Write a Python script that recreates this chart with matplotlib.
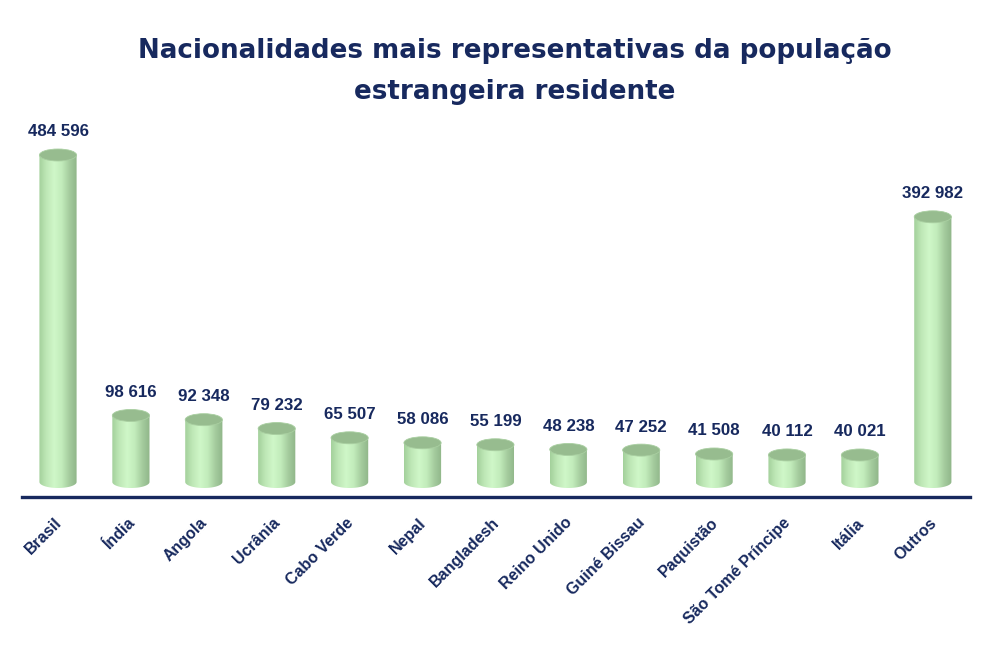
import numpy as np
import matplotlib.pyplot as plt
from matplotlib.path import Path
from matplotlib.patches import Ellipse, PathPatch
from matplotlib.colors import LinearSegmentedColormap
from matplotlib.transforms import ScaledTranslation

# data
paises = ["Brasil", "Índia", "Angola", "Ucrânia", "Cabo Verde", "Nepal",
          "Bangladesh", "Reino Unido", "Guiné Bissau", "Paquistão",
          "São Tomé Príncipe", "Itália", "Outros"]
residentes = [484596, 98616, 92348, 79232, 65507, 58086,
              55199, 48238, 47252, 41508, 40112, 40021, 392982]
rotulos = ["484 596", "98 616", "92 348", "79 232", "65 507", "58 086",
           "55 199", "48 238", "47 252", "41 508", "40 112", "40 021", "392 982"]

navy = "#17295e"
plt.rcParams["font.family"] = ["Liberation Sans", "DejaVu Sans"]

fig = plt.figure(figsize=(9.82, 6.66), dpi=100)
W, H = 982, 666
# axes box in pixels: left 22, right 970, top 100, bottom 497
ax = fig.add_axes([22 / W, (H - 497) / H, 948 / W, 397 / H])

x = np.arange(len(paises))
ymin, ymax = -22229, 566100
ax.set_xlim(-0.494, 12.51)
ax.set_ylim(ymin, ymax)

px_per_unit = 397 / (ymax - ymin)
ry = 6 / px_per_unit      # ellipse half-height in data units
half_w = 0.255

grad = LinearSegmentedColormap.from_list(
    "cyl", ["#a3d09b", "#bfe8b7", "#cff7c8", "#c2ecbb", "#a5cc9e", "#8fb589"])
g = np.linspace(0, 1, 256).reshape(1, -1)

for xi, v, txt in zip(x, residentes, rotulos):
    t = np.linspace(np.pi, 2 * np.pi, 40)
    arc = [(xi + half_w * np.cos(a), ry * np.sin(a)) for a in t]
    verts = [(xi - half_w, v)] + arc + [(xi + half_w, v), (xi - half_w, v)]
    codes = [Path.MOVETO] + [Path.LINETO] * (len(verts) - 2) + [Path.CLOSEPOLY]
    body = PathPatch(Path(verts, codes), facecolor="none", edgecolor="none")
    ax.add_patch(body)
    im = ax.imshow(g, cmap=grad, aspect="auto", zorder=2,
                   extent=[xi - half_w, xi + half_w, -ry, v])
    im.set_clip_path(body)
    top = Ellipse((xi, v), 2 * half_w, 2 * ry,
                  facecolor="#97bc8f", edgecolor="#a9cfa1", lw=0.6, zorder=3)
    ax.add_patch(top)
    ax.annotate(txt, (xi, v), xytext=(0, 23),
                textcoords="offset pixels", ha="center", va="center",
                fontsize=12.2, fontweight="bold", color=navy)

ax.set_xlim(-0.494, 12.51)
ax.set_ylim(ymin, ymax)

for s in ["top", "right", "left"]:
    ax.spines[s].set_visible(False)
ax.spines["bottom"].set_color(navy)
ax.spines["bottom"].set_linewidth(2.4)
ax.set_yticks([])
ax.set_xticks(x)
ax.set_xticklabels(paises, rotation=45, ha="right", va="top",
                   rotation_mode="anchor", fontsize=11.5,
                   fontweight="bold", color=navy)
ax.tick_params(axis="x", length=0, pad=13)
shift = ScaledTranslation(-4 / 100, 0, fig.dpi_scale_trans)
for lab in ax.get_xticklabels():
    lab.set_transform(lab.get_transform() + shift)

fig.text(515 / W, 1 - 51 / H, "Nacionalidades mais representativas da população",
         ha="center", va="center", fontsize=18.8, fontweight="bold",
         color=navy, family=["DejaVu Sans"])
fig.text(515 / W, 1 - 92 / H, "estrangeira residente",
         ha="center", va="center", fontsize=18.8, fontweight="bold",
         color=navy, family=["DejaVu Sans"])

fig.savefig("out.png", dpi=100, facecolor="white")
